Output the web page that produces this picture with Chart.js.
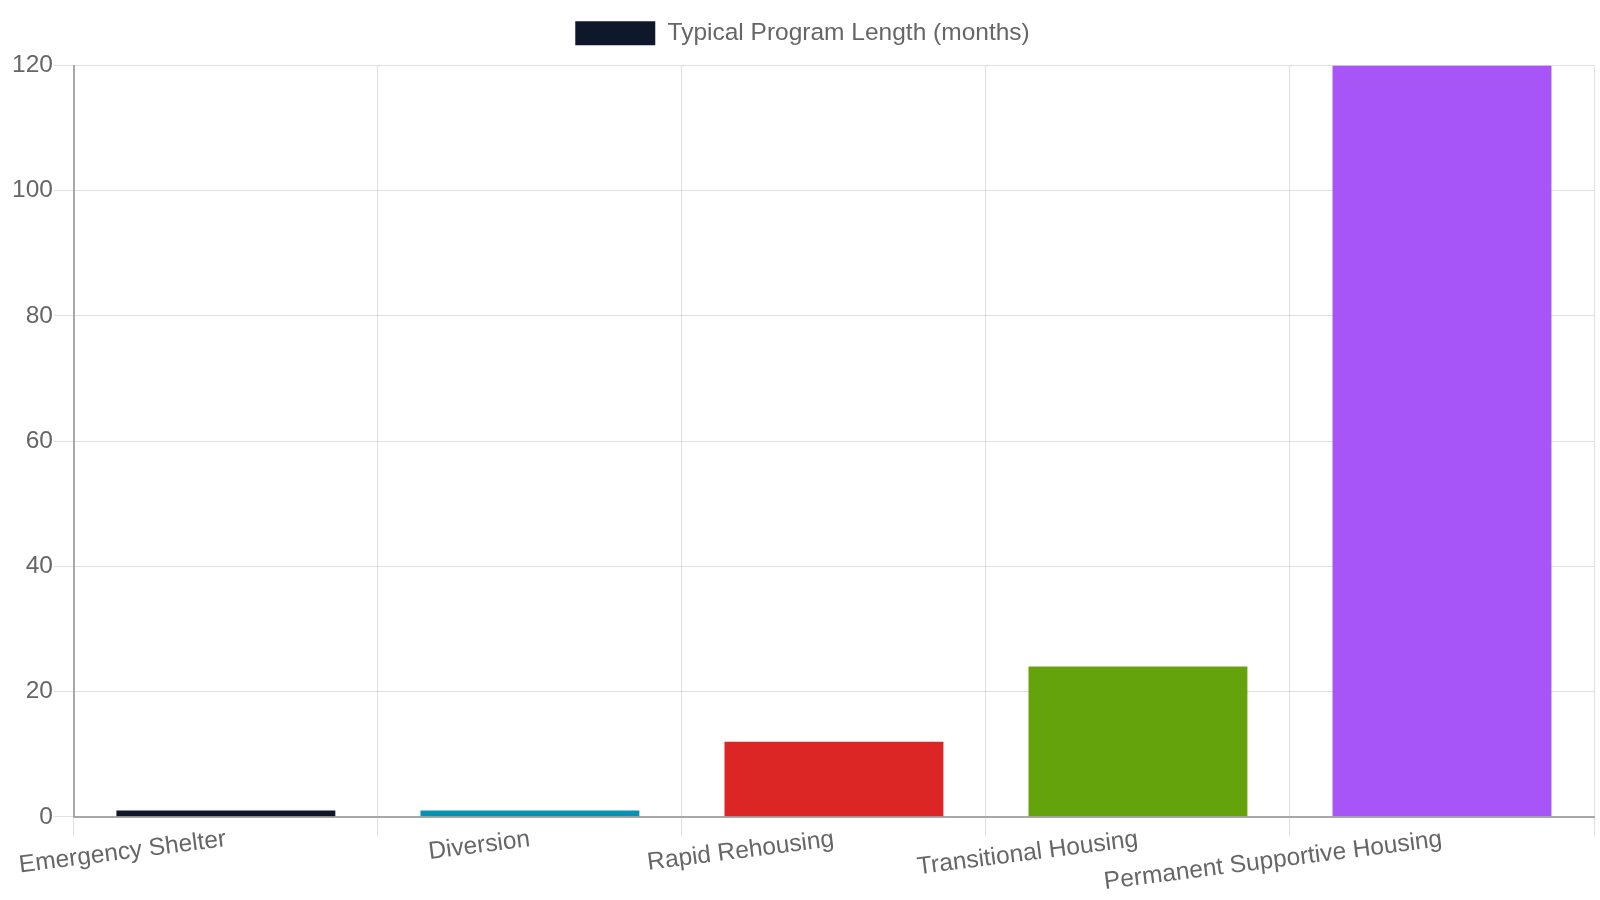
<!DOCTYPE html>
<html lang="en">
<head>
    <meta charset="UTF-8">
    <title>Typical Program Length</title>
    <script src="https://cdn.jsdelivr.net/npm/chart.js"></script>
    <style>
        html, body { margin: 0; padding: 0; background: #fff; }
        .wrap { width: 1600px; height: 900px; }
    </style>
</head>
<body>
    <div class="wrap"><canvas id="grafico"></canvas></div>
    <script>
        const categories = ['Emergency Shelter', 'Diversion', 'Rapid Rehousing', 'Transitional Housing', 'Permanent Supportive Housing'];
        const months = [1, 1, 12, 24, 120];
        const barColors = ['#0f172a', '#0891b2', '#dc2626', '#65a30d', '#a855f7'];
        const yTicks = [0, 20, 40, 60, 80, 100, 120];

        Chart.defaults.font.family = '"Liberation Sans", Arial, sans-serif';
        Chart.defaults.font.size = 24.5;
        Chart.defaults.color = '#666';

        // un poco más de espacio debajo de la leyenda
        const legendGap = {
            id: 'legendGap',
            beforeInit(chart) {
                const fit = chart.legend.fit;
                chart.legend.fit = function () {
                    fit.bind(chart.legend)();
                    this.height += 10;
                };
            }
        };

        const ctx = document.getElementById('grafico').getContext('2d');
        new Chart(ctx, {
            type: 'bar',
            data: {
                labels: categories,
                datasets: [{
                    label: 'Typical Program Length (months)',
                    data: months,
                    backgroundColor: barColors,
                    borderWidth: 0
                }]
            },
            options: {
                responsive: true,
                maintainAspectRatio: false,
                animation: false,
                layout: { padding: { top: 6, left: 11, right: 6, bottom: 0 } },
                plugins: {
                    legend: { labels: { boxWidth: 80, boxHeight: 24, padding: 15 } },
                    tooltip: { enabled: false }
                },
                scales: {
                    x: {
                        afterFit: scale => { scale.height += 15; },
                        grid: { color: 'rgba(0,0,0,0.12)', tickLength: 20 },
                        border: { color: '#a8a8a8', width: 2 },
                        ticks: { padding: -12 }
                    },
                    y: {
                        min: 0,
                        max: 120,
                        afterBuildTicks: axis => { axis.ticks = yTicks.map(v => ({ value: v })); },
                        grid: { color: 'rgba(0,0,0,0.12)', tickLength: 20 },
                        border: { color: '#a8a8a8', width: 2 },
                        ticks: { padding: 1 }
                    }
                }
            },
            plugins: [legendGap]
        });
    </script>
</body>
</html>
